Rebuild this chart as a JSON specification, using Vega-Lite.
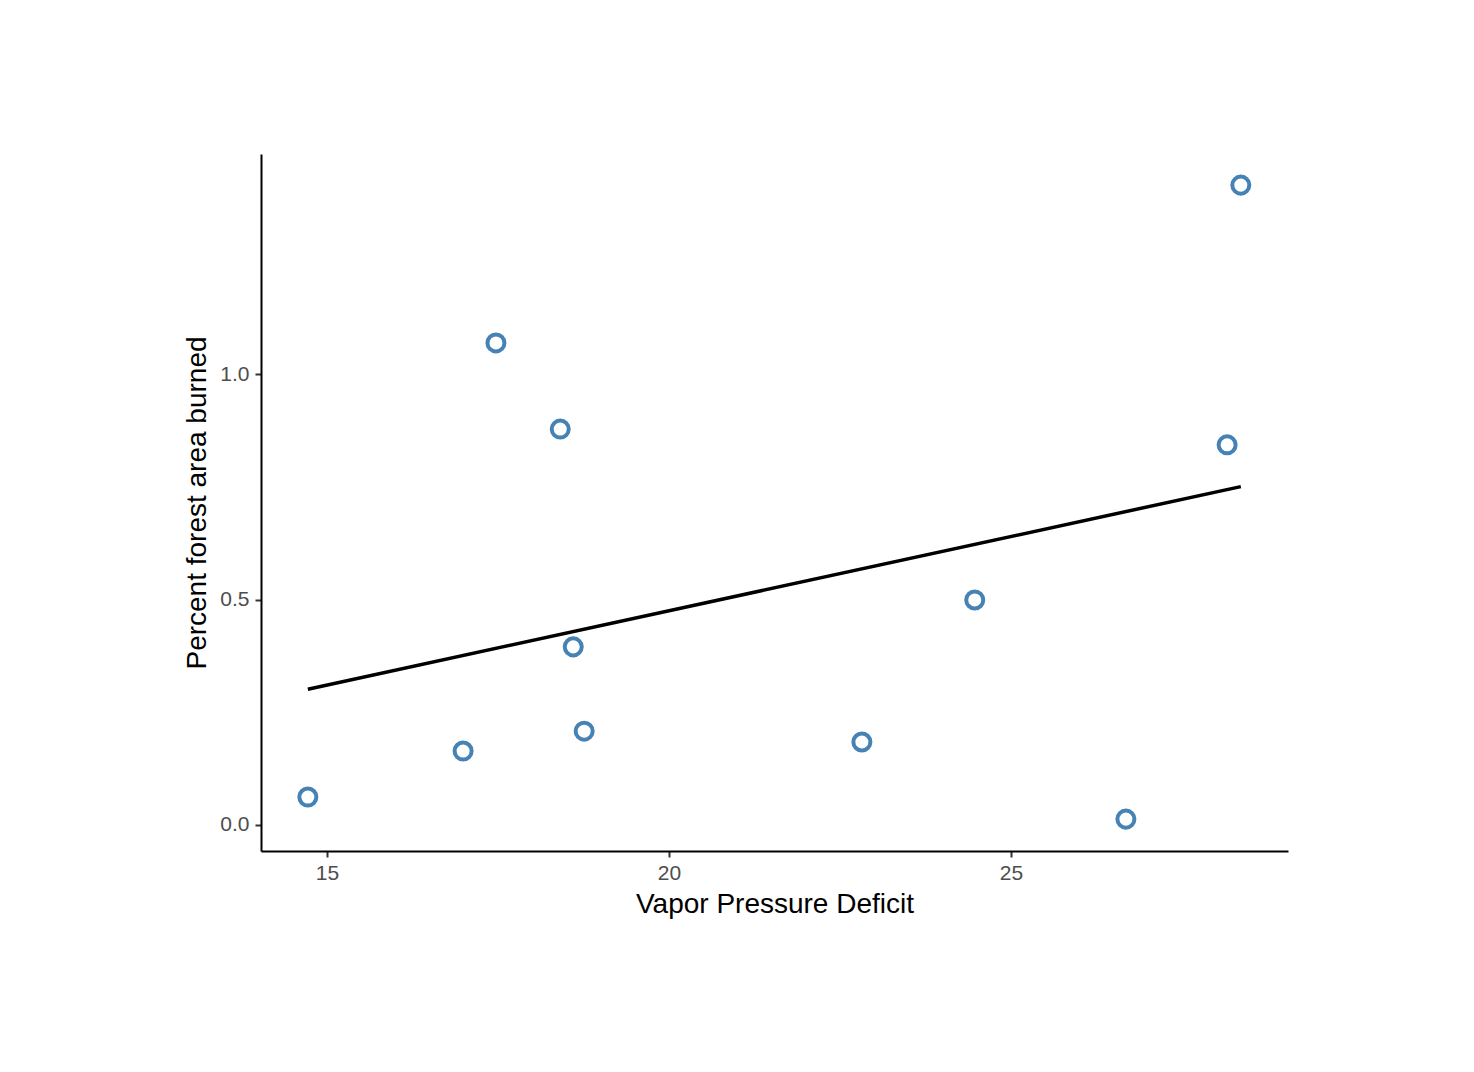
{
  "$schema": "https://vega.github.io/schema/vega-lite/v6.json",
  "width": 1027,
  "height": 697,
  "autosize": {"type": "none"},
  "padding": {"left": 261, "top": 154, "right": 186, "bottom": 221},
  "background": "white",
  "config": {
    "view": {"stroke": null},
    "font": "Liberation Sans",
    "axis": {
      "grid": false,
      "domain": true,
      "domainColor": "black",
      "domainWidth": 2,
      "tickColor": "#333333",
      "tickWidth": 2,
      "tickSize": 6,
      "labelColor": "#4D4D4D",
      "labelFontSize": 21,
      "labelFont": "Liberation Sans",
      "titleFont": "Liberation Sans",
      "titleFontSize": 28,
      "titleFontWeight": "normal",
      "titleColor": "black"
    }
  },
  "data": {
    "values": [
      {"vpd": 14.72, "burned": 0.062},
      {"vpd": 16.99, "burned": 0.164},
      {"vpd": 17.47, "burned": 1.069},
      {"vpd": 18.41, "burned": 0.878},
      {"vpd": 18.60, "burned": 0.395},
      {"vpd": 18.76, "burned": 0.208},
      {"vpd": 22.82, "burned": 0.184},
      {"vpd": 24.47, "burned": 0.499},
      {"vpd": 26.68, "burned": 0.013},
      {"vpd": 28.16, "burned": 0.843},
      {"vpd": 28.36, "burned": 1.419}
    ]
  },
  "layer": [
    {
      "mark": {"type": "point", "filled": false, "stroke": "#4682B4", "strokeWidth": 4, "size": 290, "opacity": 1},
      "encoding": {
        "x": {
          "field": "vpd", "type": "quantitative",
          "scale": {"domain": [14.035, 29.05], "nice": false, "zero": false},
          "axis": {"title": "Vapor Pressure Deficit", "values": [15, 20, 25], "format": "d", "labelPadding": 5, "titlePadding": 7}
        },
        "y": {
          "field": "burned", "type": "quantitative",
          "scale": {"domain": [-0.0577, 1.488], "nice": false, "zero": false},
          "axis": {"title": "Percent forest area burned", "values": [0, 0.5, 1.0], "format": ".1f", "labelPadding": 6, "titlePadding": 8}
        }
      }
    },
    {
      "transform": [{"regression": "burned", "on": "vpd"}],
      "mark": {"type": "line", "color": "black", "strokeWidth": 3.5},
      "encoding": {
        "x": {"field": "vpd", "type": "quantitative"},
        "y": {"field": "burned", "type": "quantitative"}
      }
    }
  ]
}
